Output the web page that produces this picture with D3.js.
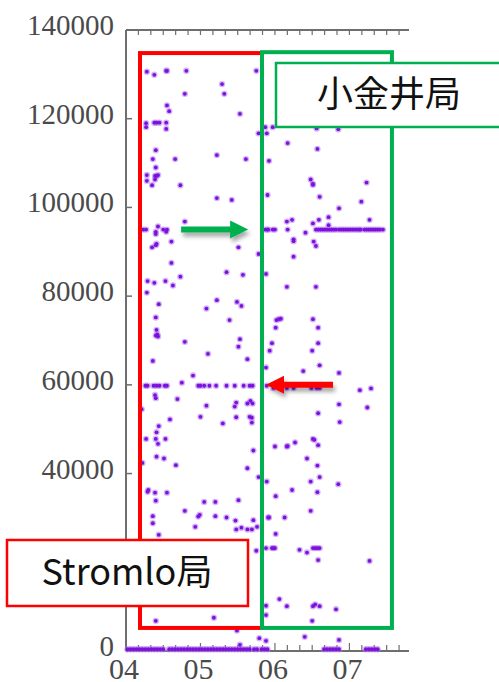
<!DOCTYPE html>
<html>
<head>
<meta charset="utf-8">
<title>Stromlo局 / 小金井局</title>
<script src="https://d3js.org/d3.v7.min.js"></script>
<style>
  body { margin: 0; background: #fff; }
  svg { display: block; }
  .num { font-family: "Liberation Serif", "DejaVu Serif", serif; fill: #4a4a4a; }
  .callout { font-family: "Noto Sans CJK JP", "Noto Sans", sans-serif; fill: #111; }
</style>
</head>
<body>
<div id="chart"></div>
<script>
// x: 時刻 (hour), y: count
var xTicks = [4, 5, 6, 7];
var xTickLabels = ["04", "05", "06", "07"];
var yTicks = [0, 20000, 40000, 60000, 80000, 100000, 120000, 140000];

// scattered points, upper half [hour, value]
var upperPts = [
  [4.28,130600],[4.38,129900],[4.54,130800],[4.55,130800],[4.81,130800],[5.75,130800],
  [5.29,127800],[4.79,125600],[5.32,125600],[4.55,123000],[4.58,121700],[5.53,121100],
  [4.27,119000],[4.27,118100],[4.38,119100],[4.41,119100],[4.45,119100],[4.54,119100],[4.54,117700],
  [5.78,116700],[5.87,118100],[5.89,116700],[5.97,118100],[6.56,117800],[6.85,117600],
  [4.40,112900],[4.36,110900],[4.66,110900],[5.22,111800],[5.61,110900],
  [4.40,109000],[4.28,107300],[4.39,107100],[4.41,107100],[4.43,107300],[4.28,106000],[4.39,106300],[4.35,105000],[4.73,105000],
  [5.22,102100],[5.42,101700],[5.90,102800],[4.79,96800],
  [4.40,94500],[4.43,95700],[4.54,94500],[4.40,94000],
  [6.17,114500],[6.57,113200],[5.92,110500],[6.48,106300],[6.51,105300],[6.51,105100],[7.23,105600],
  [6.60,102400],[7.16,101300],[6.86,99800],[6.16,96800],[6.23,97200],[6.51,96400],[6.59,97200],[6.72,97800],[7.27,97200],[6.72,96000],
  [6.41,94300],[6.25,92800],
  [4.35,91000],[4.40,91500],[4.41,91800],[4.61,92300],[5.51,91000],[5.78,89500],[4.61,87500],[5.35,85400],[5.57,84800],[4.73,84400],
  [4.29,83400],[4.38,83000],[4.53,83400],[4.63,82400],[4.28,80800],[5.22,79100],[5.49,78700],[5.55,77800],[4.44,78200],[5.08,77200],
  [4.40,75200],[5.39,74600],[4.41,72400],[4.40,71100],[4.43,70900],[4.42,71400],[5.53,70300],[5.51,68600],[4.79,69700],[5.10,67000],
  [4.36,65400],[5.63,65800],[4.90,62100],[4.75,60500],
  [6.25,92400],[6.52,92300],[6.55,91300],[6.25,88900],[5.88,85000],[6.16,82100],[6.55,82100],
  [6.02,74600],[6.05,74800],[6.08,74900],[6.51,74800],[6.01,72900],[6.58,72900],[5.96,69400],[6.58,69400],
  [5.93,67700],[6.50,67700],[5.88,63900],[6.60,64400],[6.38,63100],[6.86,62700]
];

// scattered points, lower half [hour, value]
var lowerPts = [
  [7.14,58800],[7.29,59200],
  [4.39,57700],[4.40,57000],[4.69,56800],[5.48,56000],[5.46,55100],[5.63,55800],[5.67,56400],[5.70,55800],[5.08,55300],[4.21,54500],
  [5.48,52700],[5.66,52800],[5.69,52600],[5.69,51500],[5.00,52800],[4.59,52200],[5.30,51300],[4.44,50700],[4.41,49300],
  [4.27,47800],[4.40,47800],[4.53,47800],[4.43,46700],
  [6.86,55600],[7.24,54900],[6.58,53600],[6.87,51600],[6.51,47800],
  [5.71,45200],[4.41,43800],[4.51,43400],[4.22,42400],[4.67,41900],[5.63,41200],[5.78,39200],[5.89,38200],
  [4.29,35900],[4.30,36300],[4.39,35700],[4.55,35700],[4.40,33900],[5.51,34000],[5.05,33600],[5.20,33600],
  [4.79,31600],[4.99,30700],[4.97,30300],[4.36,30400],[4.36,28800],[5.20,30400],[5.35,30100],[5.47,29400],[5.71,29500],
  [4.93,28000],[5.48,27400],[5.55,27800],[5.63,27400],[5.69,27400],[5.76,28000],[4.44,26200],[5.91,30100],
  [5.75,22600],[4.40,6800],[5.18,7500],[5.88,10200],[5.88,8100],
  [6.00,46100],[6.16,46100],[6.17,46200],[6.27,47000],[6.53,47600],[6.58,46400],[6.43,43400],[6.57,41800],[6.60,39200],[6.48,38200],
  [6.85,37600],[6.23,36300],[6.57,35800],[6.01,34900],[6.48,31600],[5.92,30100],[6.13,30100],[6.01,26400],
  [6.33,22800],[6.43,22200],[6.58,20500],[7.27,20300],[6.06,11700],
  [6.16,10100],[6.51,10100],[6.54,10500],[6.60,10100],[6.82,9400],[6.50,6800],[6.40,3200],
  [5.79,2900],[5.88,2300],[6.86,2500],[5.49,4600],[5.53,1400]
];

// horizontal runs of points
var row95000Hours = [4.23,4.27,4.50,4.55,5.87,5.90,5.91,5.97,6.00,6.17,
  6.55,6.58,6.61,6.64,6.67,6.70,6.73,6.76,6.79,6.82,
  6.86,6.89,6.92,6.95,6.98,7.01,7.04,7.07,7.10,7.13,7.15,
  7.20,7.23,7.26,7.29,7.32,7.35,7.38,7.41,7.45];
var row59800Hours = [4.26,4.29,4.37,4.41,4.45,4.52,4.55,4.97,5.00,5.05,5.12,5.21,5.35,5.46,5.58,5.66,5.70,5.89];
var row59300Hours = [5.98,6.16,6.25,6.49,6.56,6.60];
var row23200Hours = [5.88,5.96,5.98,6.00,6.51,6.54,6.57,6.60];
var row400Hours = [4.02,4.06,4.10,4.14,4.18,4.22,4.26,4.30,4.34,4.38,4.42,4.46,4.50,
  4.58,4.62,4.66,4.70,4.74,4.78,4.82,4.86,4.90,4.94,4.98,5.02,5.06,5.10,5.14,5.18,5.22,
  5.26,5.30,5.34,5.38,5.42,5.46,5.50,5.54,5.58,5.62,5.66,5.72,5.76,5.82,5.86,5.90,
  6.66,6.70,6.74,6.78,6.82,6.86,7.22,7.26,7.30,7.34,7.38];

var points = upperPts.concat(lowerPts)
  .concat(row95000Hours.map(function (h) { return [h, 95000]; }))
  .concat(row59800Hours.map(function (h) { return [h, 59800]; }))
  .concat(row59300Hours.map(function (h) { return [h, 59300]; }))
  .concat(row23200Hours.map(function (h) { return [h, 23200]; }))
  .concat(row400Hours.map(function (h) { return [h, 400]; }));

var W = 499, H = 682;
var x = d3.scaleLinear().domain([4, 7.8]).range([126, 409]);
var y = d3.scaleLinear().domain([0, 140000]).range([651, 30]);

var svg = d3.select("#chart").append("svg")
  .attr("width", W).attr("height", H);

var defs = svg.append("defs");
var sh = defs.append("filter").attr("id", "shadow")
  .attr("x", "-20%").attr("y", "-50%").attr("width", "150%").attr("height", "250%");
sh.append("feDropShadow").attr("dx", 2).attr("dy", 4).attr("stdDeviation", 2)
  .attr("flood-color", "#000").attr("flood-opacity", 0.35);

// frame
var axisColor = "#6e6e6e";
svg.append("line").attr("x1", 126).attr("x2", 126).attr("y1", y(140000)).attr("y2", y(0))
  .attr("stroke", axisColor).attr("stroke-width", 2);
svg.append("line").attr("x1", 126).attr("x2", x(7.8)).attr("y1", y(140000)).attr("y2", y(140000))
  .attr("stroke", axisColor).attr("stroke-width", 2);
svg.append("line").attr("x1", 126).attr("x2", x(7.8)).attr("y1", y(0)).attr("y2", y(0))
  .attr("stroke", axisColor).attr("stroke-width", 2);

// minor ticks every 10 minutes (bottom and top)
var minor = d3.range(4, 7.8 + 1e-9, 1 / 6);
svg.selectAll(".mb").data(minor).enter().append("line")
  .attr("x1", function (d) { return x(d); }).attr("x2", function (d) { return x(d); })
  .attr("y1", y(0)).attr("y2", function (d, i) { return y(0) - (i % 6 === 0 ? 8 : 6); })
  .attr("stroke", axisColor).attr("stroke-width", 1.2);
svg.selectAll(".mt").data(minor).enter().append("line")
  .attr("x1", function (d) { return x(d); }).attr("x2", function (d) { return x(d); })
  .attr("y1", y(140000)).attr("y2", y(140000) + 5)
  .attr("stroke", axisColor).attr("stroke-width", 1.2);

// y ticks + labels
svg.selectAll(".yt").data(yTicks).enter().append("line")
  .attr("x1", 126).attr("x2", 132)
  .attr("y1", function (d) { return y(d); }).attr("y2", function (d) { return y(d); })
  .attr("stroke", axisColor).attr("stroke-width", 1.5);
svg.selectAll(".yl").data(yTicks).enter().append("text")
  .attr("class", "num")
  .attr("x", 114).attr("y", function (d) { return y(d) + 5; })
  .attr("text-anchor", "end").attr("font-size", 29)
  .text(function (d) { return d; });

// x labels
svg.selectAll(".xl").data(xTicks).enter().append("text")
  .attr("class", "num")
  .attr("x", function (d) { return x(d) - 2; }).attr("y", 679)
  .attr("text-anchor", "middle").attr("font-size", 30)
  .text(function (d, i) { return xTickLabels[i]; });

// points
var dots = svg.append("g");
dots.selectAll(".halo").data(points).enter().append("circle")
  .attr("cx", function (d) { return x(d[0]); }).attr("cy", function (d) { return y(d[1]); })
  .attr("r", 3.2).attr("fill", "#b27af0").attr("opacity", 0.55);
dots.selectAll(".dot").data(points).enter().append("circle")
  .attr("cx", function (d) { return x(d[0]); }).attr("cy", function (d) { return y(d[1]); })
  .attr("r", 1.9).attr("fill", "#7c10dc");

// station boxes
svg.append("rect")
  .attr("x", x(4.188)).attr("y", y(134800))
  .attr("width", x(5.826) - x(4.188)).attr("height", y(5200) - y(134800))
  .attr("fill", "none").attr("stroke", "#ff0000").attr("stroke-width", 4);
svg.append("rect")
  .attr("x", x(5.826)).attr("y", y(135000))
  .attr("width", x(7.571) - x(5.826)).attr("height", y(5200) - y(135000))
  .attr("fill", "none").attr("stroke", "#00b050").attr("stroke-width", 4);

// arrows
function arrow(x0, x1, yy, color) {
  var dir = x1 > x0 ? 1 : -1, head = 18, hw = 9, sw = 3;
  var xb = x1 - dir * head;
  var p = [[x0, yy - sw], [xb, yy - sw], [xb, yy - hw], [x1, yy], [xb, yy + hw], [xb, yy + sw], [x0, yy + sw]];
  svg.append("path").attr("d", "M" + p.join("L") + "Z")
    .attr("fill", color).attr("filter", "url(#shadow)");
}
arrow(x(4.74), x(5.64), y(95000), "#00b050");
arrow(x(6.78), x(5.88), y(60000), "#ff0000");

// callouts
svg.append("rect").attr("x", 276).attr("y", 63).attr("width", 226).attr("height", 64)
  .attr("fill", "#fff").attr("stroke", "#00b050").attr("stroke-width", 2.5);
svg.append("text").attr("class", "callout")
  .attr("x", 389).attr("y", 107).attr("text-anchor", "middle").attr("font-size", 36)
  .text("小金井局");

svg.append("rect").attr("x", 7).attr("y", 540).attr("width", 241).attr("height", 66)
  .attr("fill", "#fff").attr("stroke", "#ff0000").attr("stroke-width", 2.5);
svg.append("text").attr("class", "callout")
  .attr("x", 127).attr("y", 585).attr("text-anchor", "middle").attr("font-size", 36)
  .text("Stromlo局");
</script>
</body>
</html>
